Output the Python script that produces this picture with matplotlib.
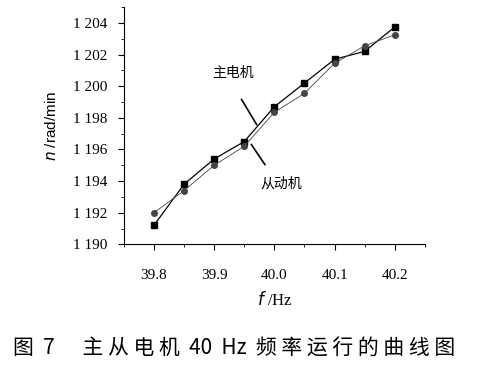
import matplotlib
matplotlib.use("Agg")
import matplotlib.pyplot as plt
from matplotlib.ticker import MultipleLocator, FuncFormatter

# frequency (Hz) and speed (rad/min)
freq = [39.80, 39.85, 39.90, 39.95, 40.00, 40.05, 40.10, 40.15, 40.20]
n_master = [1191.2, 1193.8, 1195.4, 1196.5, 1198.7, 1200.2, 1201.7, 1202.2, 1203.75]
n_slave = [1192.0, 1193.4, 1195.0, 1196.2, 1198.35, 1199.55, 1201.45, 1202.55, 1203.25]

xticks = [39.8, 39.9, 40.0, 40.1, 40.2]
yticks = [1190, 1192, 1194, 1196, 1198, 1200, 1202, 1204]

serif = ["Liberation Serif", "DejaVu Serif"]
cjk = ["Noto Sans CJK SC", "DejaVu Sans"]

fig = plt.figure(figsize=(4.78, 3.72), dpi=100)
ax = fig.add_axes([0.259, 0.343, 0.63, 0.638])

ax.plot(freq, n_master, "-s", color="black", lw=0.9, ms=4.5, label="主电机")
ax.plot(freq, n_slave, "-o", color="#444444", lw=0.6, ms=4, label="从动机")

ax.set_xlim(39.75, 40.25)
ax.set_ylim(1190, 1205)
ax.set_xticks(xticks)
ax.set_yticks(yticks)
ax.xaxis.set_minor_locator(MultipleLocator(0.05))
ax.yaxis.set_minor_locator(MultipleLocator(1))
ax.yaxis.set_major_formatter(FuncFormatter(lambda v, p: f"{int(v):,}".replace(",", " ")))
ax.xaxis.set_major_formatter(FuncFormatter(lambda v, p: f"{v:.1f}"))

for side in ["top", "right"]:
    ax.spines[side].set_visible(False)
ax.tick_params(which="major", direction="out", length=4, width=0.8, labelsize=11)
ax.tick_params(axis="x", which="major", pad=14)
ax.tick_params(axis="y", which="major", pad=8)
ax.tick_params(which="minor", direction="out", length=2, width=0.6)
for lbl in ax.get_xticklabels() + ax.get_yticklabels():
    lbl.set_family(serif)

ax.set_xlabel("$\\it{f}$ /Hz", fontsize=12, family=serif, labelpad=6)
ax.set_ylabel("$\\it{n}$ /rad/min", fontsize=11, family=["Liberation Sans", "DejaVu Sans"], labelpad=10)

# annotation leaders and labels
ax.annotate("", xy=(39.973, 1197.42), xytext=(39.943, 1199.32),
            arrowprops=dict(arrowstyle="-", color="black", lw=1.2))
ax.annotate("", xy=(39.987, 1194.89), xytext=(39.959, 1196.47),
            arrowprops=dict(arrowstyle="-", color="black", lw=1.2))
ax.text(39.932, 1200.82, "主电机", fontsize=10, family=cjk, ha="center", va="center")
ax.text(40.012, 1193.85, "从动机", fontsize=10, family=cjk, ha="center", va="center")

fig.text(0.49, 0.064, "图  7      主 从 电 机  40  Hz  频 率 运 行 的 曲 线 图", fontsize=15,
         family=cjk, ha="center", va="center")

fig.savefig("out.png", dpi=100)
